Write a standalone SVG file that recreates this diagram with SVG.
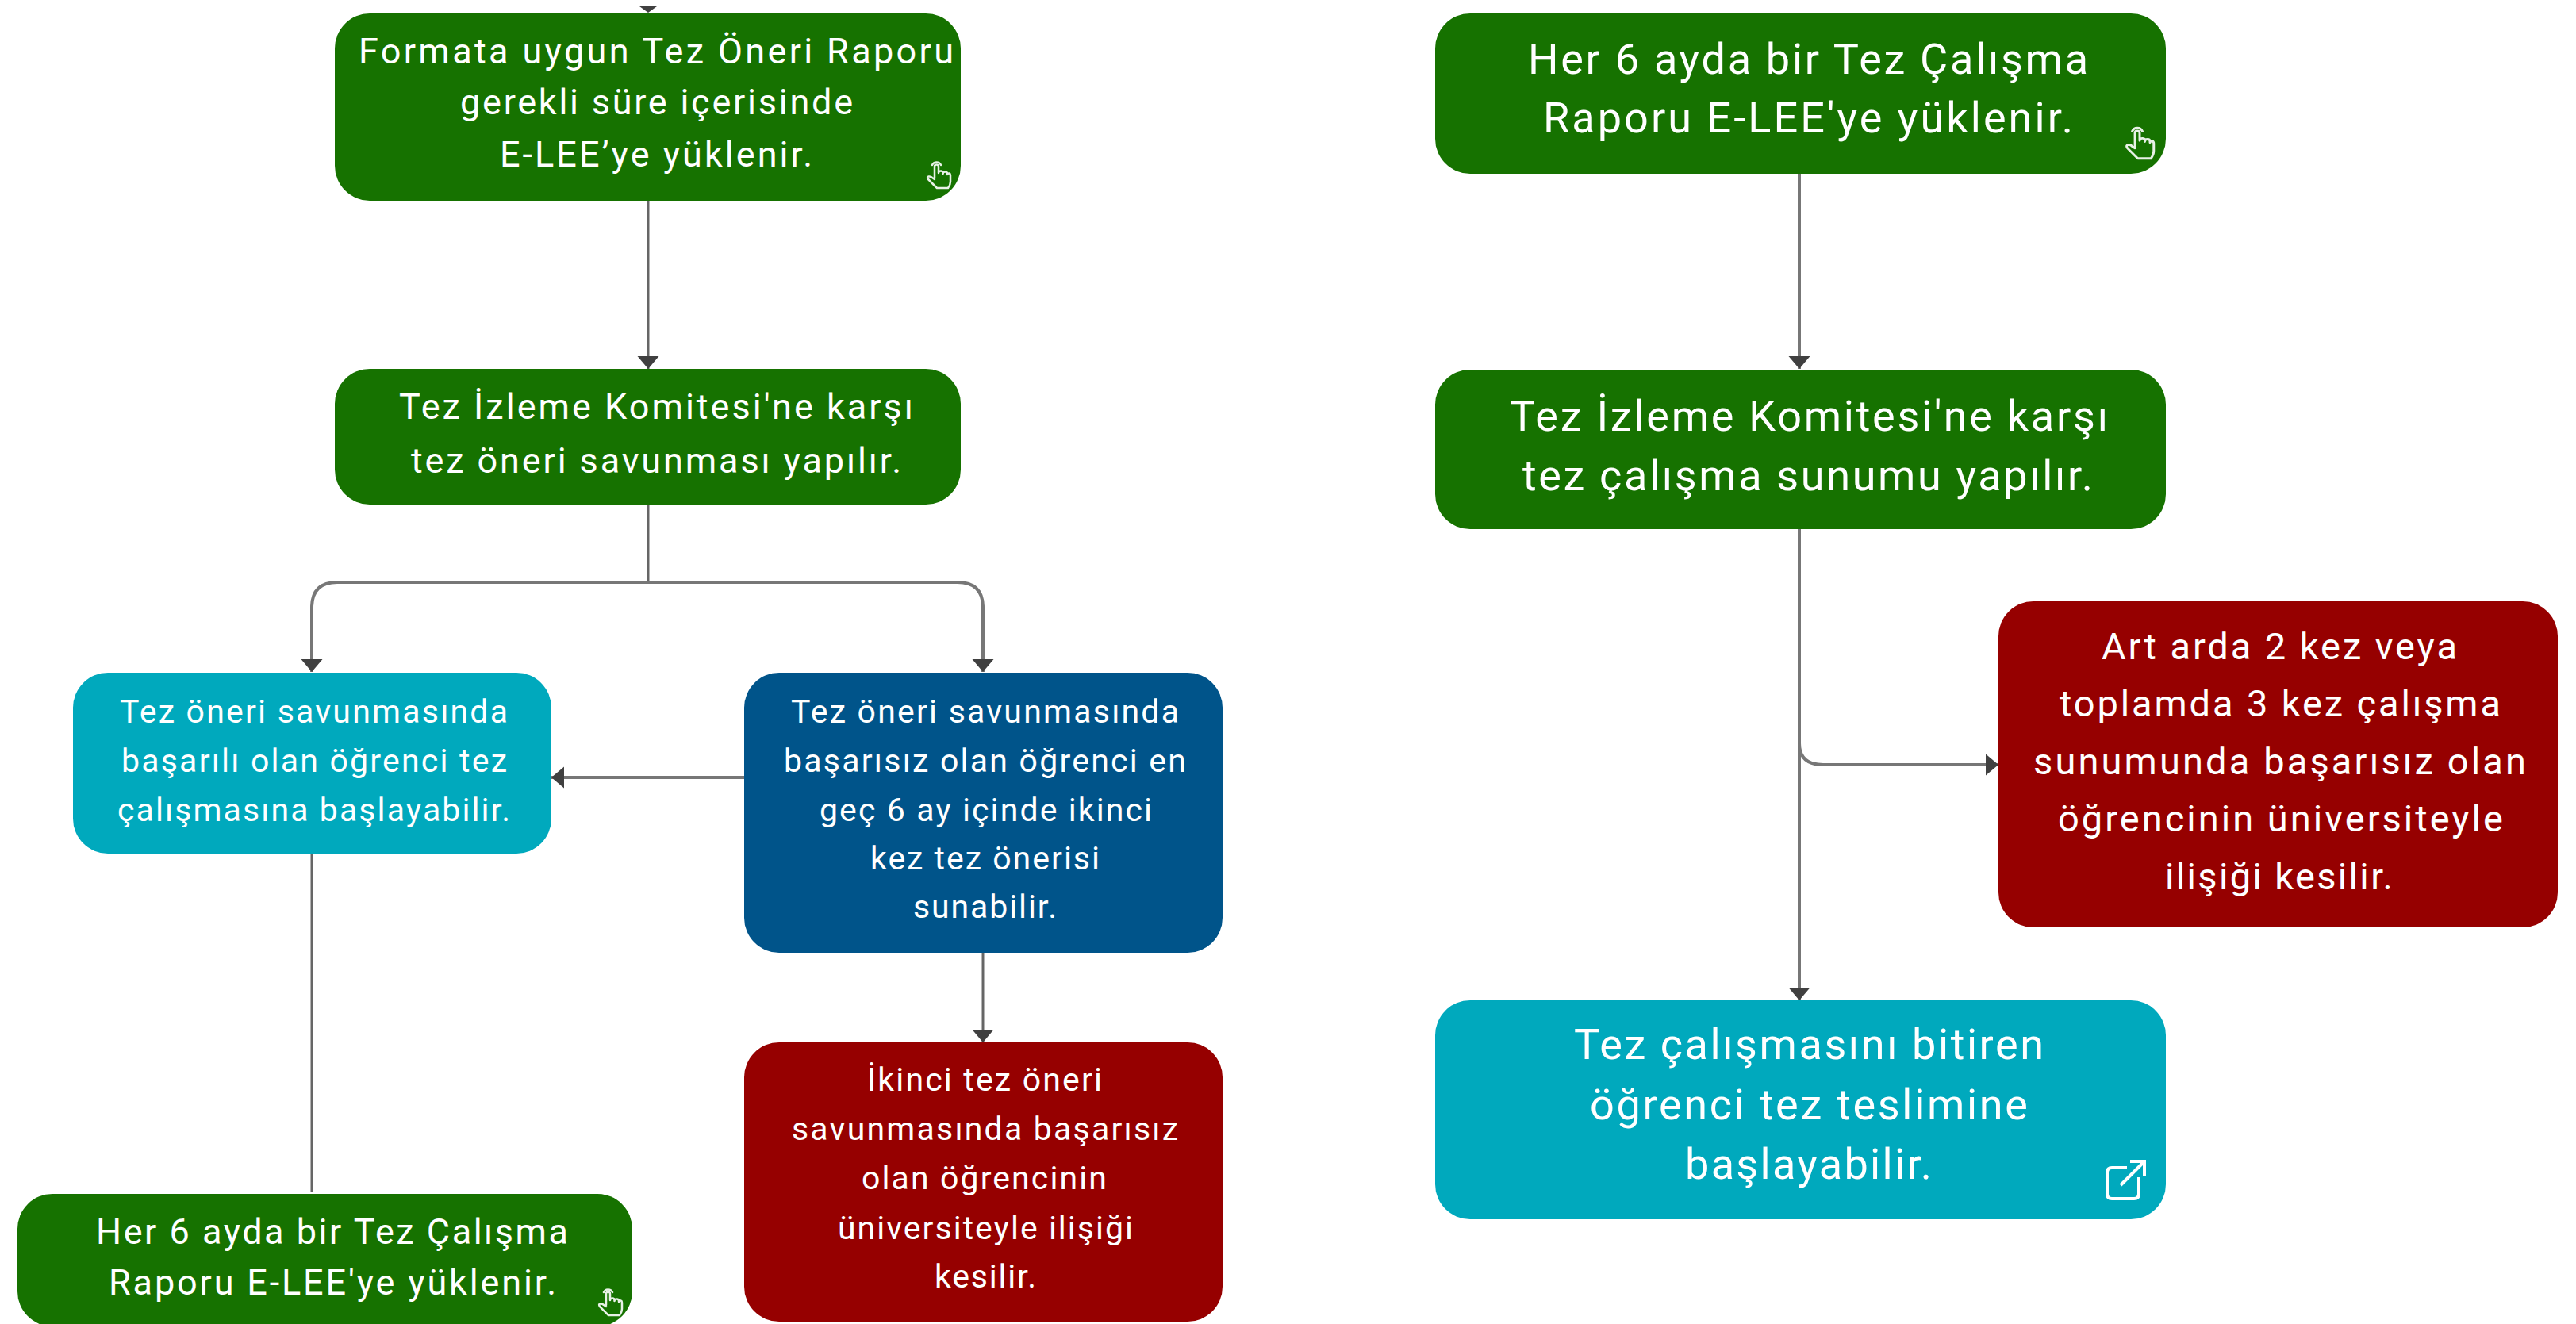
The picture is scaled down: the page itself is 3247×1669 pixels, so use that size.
<svg xmlns="http://www.w3.org/2000/svg" width="3247" height="1669" viewBox="0 0 3247 1669">
<style>
text{font-family:Roboto,"Liberation Sans",sans-serif;fill:#fff;font-weight:400}
.s{font-size:41px}.m{font-size:45px}.l{font-size:54px}.r{font-size:47px}
.green{fill:#167200}.cyan{fill:#00a9bd}.blue{fill:#00548a}.red{fill:#960000}
.c{fill:none;stroke:#666;stroke-width:3}
.h{fill:none;stroke:#777;stroke-width:4}
.i{fill:none;stroke:#fff;stroke-width:2.500;stroke-linejoin:round;stroke-linecap:round;opacity:.9}
.e{fill:none;stroke:#fff;stroke-width:4}
</style>
<defs>
<marker id="a" markerUnits="userSpaceOnUse" markerWidth="30" markerHeight="30" refX="16" refY="15" orient="auto"><path d="M0 1.500L16 15L0 28.500Z" fill="#404040"/></marker>
<symbol id="hand" viewBox="0 0 32 38" overflow="visible"><path class="i" d="M11 24V10Q11 7.500 13.500 7.500Q16 7.500 16 10V18Q16 15.500 19 15.500Q21.500 15.500 21.500 18V19Q21.500 16.500 24.500 16.500Q27 16.500 27 19V20Q27.500 18 29.500 18.500Q31 19 31 21V29Q31 33 28 37H14L3 26Q1 23 3.500 22.500Q6 22 8 24L11 26"/><path class="i" d="M8 8A6 6 0 0 1 19 8"/></symbol>
</defs>
<rect width="3247" height="1669" fill="#fff"/>
<g id="connectors">
<path d="M806 8H828L817 16Z" fill="#404040"/>
<path class="c" marker-end="url(#a)" d="M817 253V465"/>
<path class="c" d="M817 636V734"/>
<path class="h" marker-end="url(#a)" d="M817 734H425Q393 734 393 766V847"/>
<path class="h" marker-end="url(#a)" d="M817 734H1207Q1239 734 1239 766V847"/>
<path class="h" marker-end="url(#a)" d="M938 980H695"/>
<path class="c" d="M393 1076V1502"/>
<path class="c" marker-end="url(#a)" d="M1239 1201V1314"/>
<path class="h" marker-end="url(#a)" d="M2268 219V465"/>
<path class="h" marker-end="url(#a)" d="M2268 667V1261"/>
<path class="h" marker-end="url(#a)" d="M2268 667V937Q2268 964 2298 964H2519"/>
</g>
<g id="n1"><rect class="green" x="422" y="17" width="789" height="236" rx="44"/>
<text class="m" x="452" y="80" textLength="750">Formata uygun Tez Öneri Raporu</text>
<text class="m" x="580" y="144" textLength="495">gerekli süre içerisinde</text>
<text class="m" x="630" y="210" textLength="394">E-LEE’ye yüklenir.</text>
<use href="#hand" x="1167" y="200" width="32" height="38"/></g>
<g id="n2"><rect class="green" x="422" y="465" width="789" height="171" rx="44"/>
<text class="m" x="503" y="528" textLength="648">Tez İzleme Komitesi'ne karşı</text>
<text class="m" x="518" y="596" textLength="618">tez öneri savunması yapılır.</text></g>
<g id="n3"><rect class="cyan" x="92" y="848" width="603" height="228" rx="44"/>
<text class="s" x="151" y="911" textLength="489">Tez öneri savunmasında</text>
<text class="s" x="153" y="973" textLength="486">başarılı olan öğrenci tez</text>
<text class="s" x="148" y="1035" textLength="495">çalışmasına başlayabilir.</text></g>
<g id="n4"><rect class="blue" x="938" y="848" width="603" height="353" rx="44"/>
<text class="s" x="997" y="911" textLength="489">Tez öneri savunmasında</text>
<text class="s" x="988" y="973" textLength="507">başarısız olan öğrenci en</text>
<text class="s" x="1033" y="1035" textLength="419">geç 6 ay içinde ikinci</text>
<text class="s" x="1097" y="1096" textLength="289">kez tez önerisi</text>
<text class="s" x="1151" y="1157" textLength="181">sunabilir.</text></g>
<g id="n5"><rect class="red" x="938" y="1314" width="603" height="352" rx="44"/>
<text class="s" x="1093" y="1375" textLength="296">İkinci tez öneri</text>
<text class="s" x="998" y="1437" textLength="487">savunmasında başarısız</text>
<text class="s" x="1086" y="1499" textLength="309">olan öğrencinin</text>
<text class="s" x="1056" y="1562" textLength="372">üniversiteyle ilişiği</text>
<text class="s" x="1178" y="1623" textLength="128">kesilir.</text></g>
<g id="n6"><rect class="green" x="22" y="1505" width="775" height="167" rx="44"/>
<text class="m" x="121" y="1568" textLength="595">Her 6 ayda bir Tez Çalışma</text>
<text class="m" x="137" y="1632" textLength="564">Raporu E-LEE'ye yüklenir.</text>
<use href="#hand" x="753" y="1621" width="32" height="38"/></g>
<g id="n7"><rect class="green" x="1809" y="17" width="921" height="202" rx="44"/>
<text class="l" x="1926" y="93" textLength="706">Her 6 ayda bir Tez Çalışma</text>
<text class="l" x="1945" y="167" textLength="668">Raporu E-LEE'ye yüklenir.</text>
<use href="#hand" x="2678" y="156" width="38" height="45"/></g>
<g id="n8"><rect class="green" x="1809" y="466" width="921" height="201" rx="44"/>
<text class="l" x="1903" y="543" textLength="754">Tez İzleme Komitesi'ne karşı</text>
<text class="l" x="1919" y="618" textLength="719">tez çalışma sunumu yapılır.</text></g>
<g id="n9"><rect class="red" x="2519" y="758" width="705" height="411" rx="44"/>
<text class="r" x="2649" y="831" textLength="448">Art arda 2 kez veya</text>
<text class="r" x="2596" y="903" textLength="556">toplamda 3 kez çalışma</text>
<text class="r" x="2563" y="976" textLength="621">sunumunda başarısız olan</text>
<text class="r" x="2594" y="1048" textLength="561">öğrencinin üniversiteyle</text>
<text class="r" x="2729" y="1121" textLength="287">ilişiği kesilir.</text></g>
<g id="n10"><rect class="cyan" x="1809" y="1261" width="921" height="276" rx="44"/>
<text class="l" x="1984" y="1335" textLength="592">Tez çalışmasını bitiren</text>
<text class="l" x="2004" y="1411" textLength="552">öğrenci tez teslimine</text>
<text class="l" x="2124" y="1486" textLength="311">başlayabilir.</text>
<path class="e" d="M2681 1472H2662Q2656 1472 2656 1478V1505Q2656 1511 2662 1511H2690Q2696 1511 2696 1505V1484M2673 1494L2702 1465M2685 1464H2703V1482"/></g>
</svg>
